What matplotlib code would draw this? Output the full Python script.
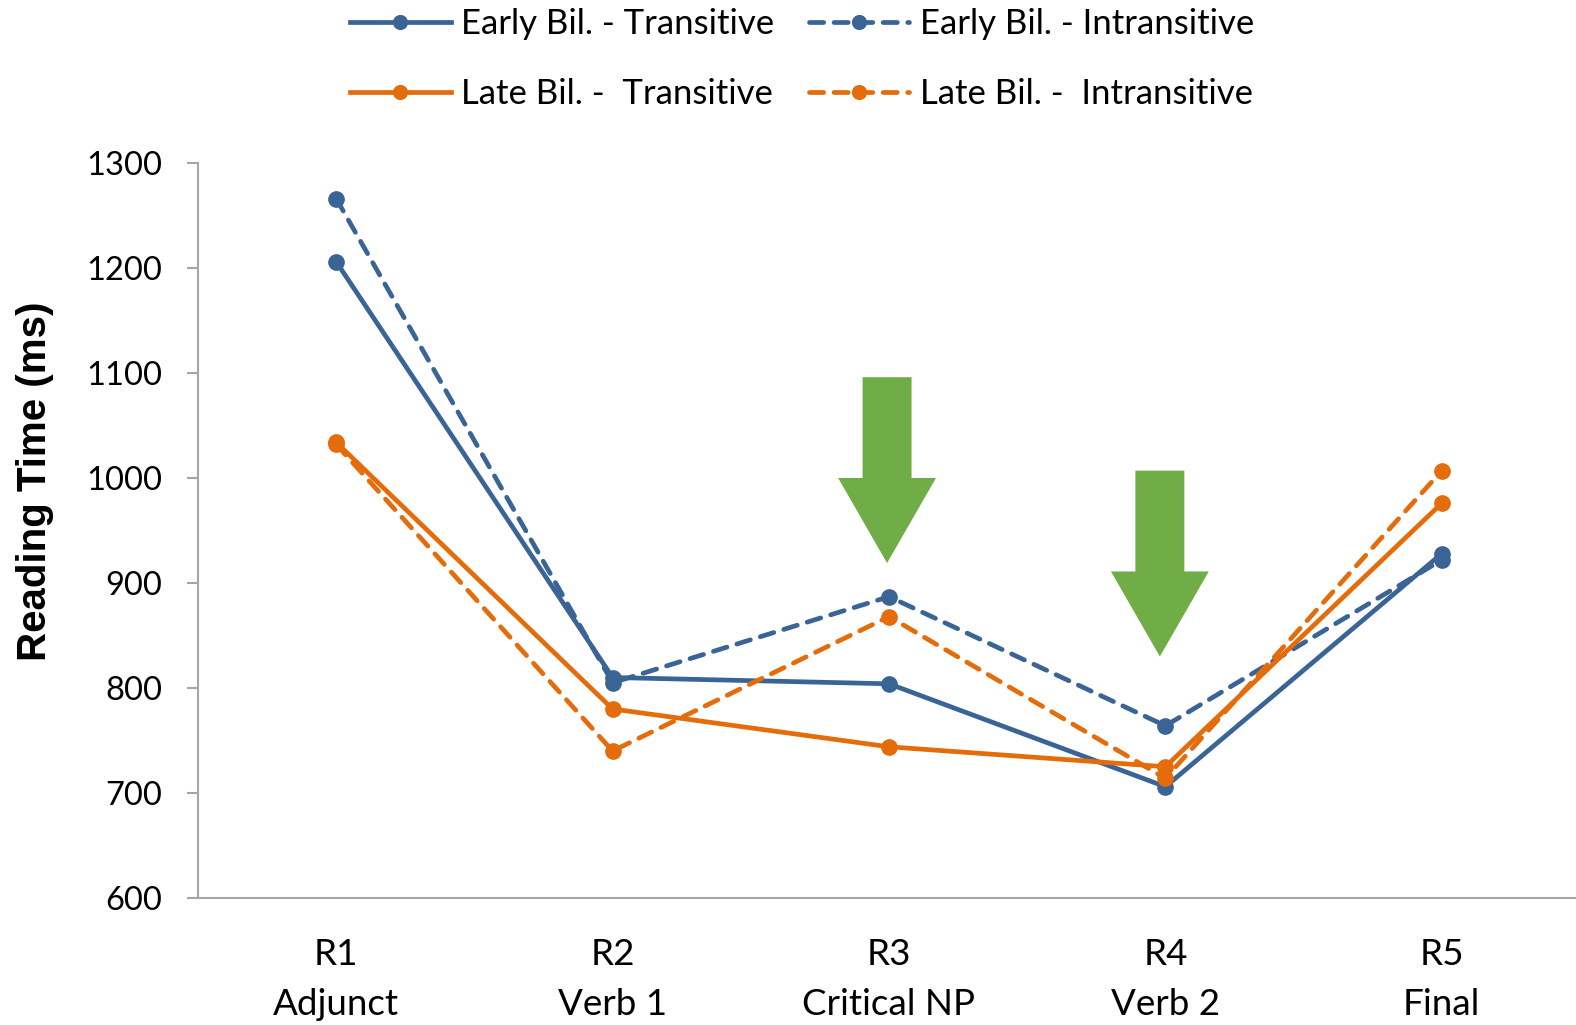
import matplotlib.pyplot as plt
from matplotlib.patches import Polygon

regions = ["R1\nAdjunct", "R2\nVerb 1", "R3\nCritical NP", "R4\nVerb 2", "R5\nFinal"]
early_trans = [1206, 810, 804, 706, 928]
early_intrans = [1266, 805, 887, 764, 922]
late_trans = [1034, 780, 744, 725, 976]
late_intrans = [1032, 740, 868, 714, 1007]

blue = "#3A6496"
orange = "#E46C0A"
green = "#70AD47"

plt.rcParams["font.family"] = ["Lato", "DejaVu Sans"]

fig = plt.figure(figsize=(15.76, 10.25), dpi=100)
ax = fig.add_axes([198 / 1576, 1 - 898 / 1025, (1580 - 198) / 1576, (898 - 163) / 1025])

x = range(len(regions))
series = [
    (early_trans, blue, "-", "Early Bil. - Transitive"),
    (early_intrans, blue, "--", "Early Bil. - Intransitive"),
    (late_trans, orange, "-", "Late Bil. -  Transitive"),
    (late_intrans, orange, "--", "Late Bil. -  Intransitive"),
]
handles = []
for vals, c, ls, lab in series:
    ln, = ax.plot(x, vals, color=c, lw=3.4, marker="o", ms=11, label=lab)
    if ls == "--":
        ln.set_dashes((3.0, 2.2))
        ln.set_dash_capstyle("round")
    handles.append(ln)

# green arrows: (category, top, head base, tip, x offset)
arrows = [(2, 1096, 1000, 919, -0.007), (3, 1007, 911, 830, -0.02)]
sw, hw = 0.0886, 0.177
for cx, top, base, tip, off in arrows:
    c = cx + off
    pts = [(c - sw, top), (c + sw, top), (c + sw, base), (c + hw, base),
           (c, tip), (c - hw, base), (c - sw, base)]
    ax.add_patch(Polygon(pts, closed=True, facecolor=green, edgecolor="none", zorder=1))

ax.set_xlim(-0.5, 4.5)
ax.set_ylim(600, 1300)
ax.set_yticks(range(600, 1301, 100))
ax.set_xticks(list(x))
ax.set_xticklabels(regions, linespacing=1.62)
ax.tick_params(axis="y", length=8, width=1.5, color="#A6A6A6", labelsize=23.5, pad=18)
ax.tick_params(axis="x", length=0, labelsize=26.5, pad=29)
for s in ["top", "right"]:
    ax.spines[s].set_visible(False)
for s in ["left", "bottom"]:
    ax.spines[s].set_color("#A6A6A6")
    ax.spines[s].set_linewidth(1.5)

fig.text(35 / 1576, 1 - 481 / 1025, "Reading Time (ms)", rotation=90, ha="center", va="center",
         fontsize=29, fontweight="bold", family=["Liberation Sans", "DejaVu Sans"])

# legend fills column-wise, so order handles to read row-wise
order = [0, 2, 1, 3]
fig.legend(handles=[handles[i] for i in order], ncol=2, loc="center",
           bbox_to_anchor=(802 / 1576, 1 - 59 / 1025),
           frameon=False, fontsize=25, handlelength=2.9, handletextpad=0.3,
           columnspacing=1.0, labelspacing=1.1, markerscale=0.9)

fig.savefig("out.png", dpi=100)
